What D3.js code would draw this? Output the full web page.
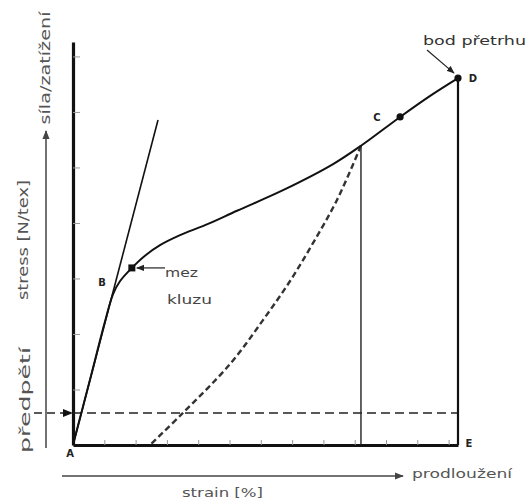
<!DOCTYPE html>
<html>
<head>
<meta charset="utf-8">
<script src="https://cdn.jsdelivr.net/npm/d3@7"></script>
<style>
  html, body { margin: 0; padding: 0; background: #fff; }
  svg { display: block; font-family: "DejaVu Sans", Verdana, sans-serif; }
</style>
</head>
<body>
<svg id="chart" width="528" height="501"></svg>
<script>
// Stress–strain diagram of a fibre (strain in tick units, stress in tick units)
const strainTicks = [1, 2, 3, 4, 5, 6, 7, 8, 9, 10, 11, 12];
const stressTicks = [1, 2, 3, 4, 5, 6, 7];
const strainMax = 12.3;
const stressMax = 7.26;

// loading curve A → B → C → D
const loadStrain = [0, 0.54, 1.02, 1.28, 1.50, 1.88, 2.30, 2.78, 3.42, 4.22, 5.24, 6.71, 8.31, 9.20, 10.45, 11.41, 12.30];
const loadStress = [0, 1.17, 2.22, 2.72, 2.95, 3.19, 3.41, 3.60, 3.78, 3.96, 4.22, 4.59, 5.06, 5.39, 5.91, 6.29, 6.61];

// unloading curve from the point on the loading curve back to zero stress
const unloadStrain = [9.20, 8.43, 7.67, 6.93, 6.07, 5.02, 3.48, 2.46];
const unloadStress = [5.39, 4.41, 3.64, 2.95, 2.25, 1.46, 0.56, 0];

// initial modulus (tangent at A)
const tangentStrain = [0, 2.716];
const tangentStress = [0, 5.856];

const preload = 0.577;           // předpětí
const yieldPoint = [1.88, 3.19]; // mez kluzu
const pointC = [10.45, 5.91];
const pointD = [12.30, 6.61];    // bod přetrhu
const unloadPoint = [9.20, 5.39];

const svg = d3.select("#chart");
const x = d3.scaleLinear().domain([0, strainMax]).range([73, 458]);
const y = d3.scaleLinear().domain([0, stressMax]).range([445, 42]);

// arrow markers
const defs = svg.append("defs");
function marker(id, size, color) {
  defs.append("marker")
    .attr("id", id).attr("viewBox", "0 0 10 10")
    .attr("refX", 9).attr("refY", 5)
    .attr("markerWidth", size).attr("markerHeight", size)
    .attr("markerUnits", "userSpaceOnUse")
    .attr("orient", "auto")
    .append("path").attr("d", "M0,1 L10,5 L0,9 Z").attr("fill", color);
}
marker("arrowBig", 10, "#111");
marker("arrowGrey", 9, "#444");
marker("arrowSmall", 8, "#222");

// ticks
const yAxis = svg.append("g").attr("transform", `translate(${x(0)},0)`)
  .call(d3.axisRight(y).tickValues(stressTicks).tickSize(7).tickSizeOuter(0).tickFormat(""));
yAxis.selectAll(".tick line").attr("stroke", "#999").attr("stroke-width", 1);
yAxis.select(".domain").attr("stroke", "#111").attr("stroke-width", 3.2);

const xAxis = svg.append("g").attr("transform", `translate(0,${y(0)})`)
  .call(d3.axisTop(x).tickValues(strainTicks).tickSize(5).tickSizeOuter(0).tickFormat(""));
xAxis.selectAll(".tick line").attr("stroke", "#999").attr("stroke-width", 1);
xAxis.select(".domain").attr("stroke", "#111").attr("stroke-width", 3);

// preload dashed line with arrow into the axis
svg.append("line")
  .attr("x1", x(0)).attr("x2", x(strainMax))
  .attr("y1", y(preload)).attr("y2", y(preload))
  .attr("stroke", "#222").attr("stroke-width", 1.6).attr("stroke-dasharray", "9,5");
svg.append("line")
  .attr("x1", 34).attr("x2", x(0) - 1)
  .attr("y1", y(preload)).attr("y2", y(preload))
  .attr("stroke", "#222").attr("stroke-width", 1.6).attr("stroke-dasharray", "8,5")
  .attr("marker-end", "url(#arrowBig)");

// vertical lines down from D and from the unloading point
svg.append("line")
  .attr("x1", x(pointD[0])).attr("x2", x(pointD[0]))
  .attr("y1", y(pointD[1])).attr("y2", y(0))
  .attr("stroke", "#111").attr("stroke-width", 2.2);
svg.append("line")
  .attr("x1", x(unloadPoint[0])).attr("x2", x(unloadPoint[0]))
  .attr("y1", y(unloadPoint[1])).attr("y2", y(0))
  .attr("stroke", "#222").attr("stroke-width", 1.4);

// tangent
svg.append("line")
  .attr("x1", x(tangentStrain[0])).attr("y1", y(tangentStress[0]))
  .attr("x2", x(tangentStrain[1])).attr("y2", y(tangentStress[1]))
  .attr("stroke", "#111").attr("stroke-width", 1.6);

const line = d3.line().x(d => x(d[0])).y(d => y(d[1])).curve(d3.curveCatmullRom.alpha(0.5));

// unloading curve
svg.append("path")
  .attr("d", line(unloadStrain.map((s, i) => [s, unloadStress[i]])))
  .attr("fill", "none").attr("stroke", "#333").attr("stroke-width", 2.4)
  .attr("stroke-dasharray", "6,3.5");

// loading curve
svg.append("path")
  .attr("d", line(loadStrain.map((s, i) => [s, loadStress[i]])))
  .attr("fill", "none").attr("stroke", "#111").attr("stroke-width", 2);

// markers
svg.append("rect")
  .attr("x", x(yieldPoint[0]) - 3.5).attr("y", y(yieldPoint[1]) - 3.5)
  .attr("width", 7).attr("height", 7).attr("fill", "#111");
[pointC, pointD].forEach(p => {
  svg.append("circle").attr("cx", x(p[0])).attr("cy", y(p[1])).attr("r", 3.6).attr("fill", "#111");
});

// point letters
const letters = [
  { t: "A", px: x(0) - 3, py: y(0) + 12 },
  { t: "B", px: 102, py: 286 },
  { t: "C", px: 377, py: 121 },
  { t: "D", px: x(pointD[0]) + 15, py: y(pointD[1]) + 4 },
  { t: "E", px: x(strainMax) + 11, py: y(0) + 2 }
];
svg.selectAll("text.letter").data(letters).join("text")
  .attr("class", "letter")
  .attr("x", d => d.px).attr("y", d => d.py)
  .attr("text-anchor", "middle")
  .attr("font-size", 10).attr("font-weight", "bold").attr("fill", "#222")
  .text(d => d.t);

// annotations
svg.append("line")
  .attr("x1", 165).attr("y1", y(yieldPoint[1]))
  .attr("x2", x(yieldPoint[0]) + 5).attr("y2", y(yieldPoint[1]))
  .attr("stroke", "#222").attr("stroke-width", 1.2)
  .attr("marker-end", "url(#arrowSmall)");
svg.append("text").attr("x", 165).attr("y", 277).attr("font-size", 13).attr("fill", "#444")
  .attr("textLength", 33).attr("lengthAdjust", "spacingAndGlyphs").text("mez");
svg.append("text").attr("x", 167).attr("y", 304).attr("font-size", 13).attr("fill", "#444")
  .attr("textLength", 45).attr("lengthAdjust", "spacingAndGlyphs").text("kluzu");

svg.append("line")
  .attr("x1", 427).attr("y1", 50).attr("x2", x(pointD[0]) - 4).attr("y2", y(pointD[1]) - 5)
  .attr("stroke", "#222").attr("stroke-width", 1.2)
  .attr("marker-end", "url(#arrowSmall)");
svg.append("text").attr("x", 423).attr("y", 45).attr("font-size", 12).attr("fill", "#333")
  .attr("textLength", 103).attr("lengthAdjust", "spacingAndGlyphs").text("bod přetrhu");

// outer arrows and axis titles
svg.append("line")
  .attr("x1", 62).attr("x2", 403).attr("y1", 476).attr("y2", 476)
  .attr("stroke", "#444").attr("stroke-width", 1.5)
  .attr("marker-end", "url(#arrowGrey)");
svg.append("text").attr("x", 412).attr("y", 478).attr("font-size", 13).attr("fill", "#555")
  .attr("textLength", 100).attr("lengthAdjust", "spacingAndGlyphs").text("prodloužení");
svg.append("text").attr("x", 182).attr("y", 497).attr("font-size", 13).attr("fill", "#555")
  .attr("textLength", 81).attr("lengthAdjust", "spacingAndGlyphs").text("strain [%]");

svg.append("line")
  .attr("x1", 46).attr("x2", 46).attr("y1", 448).attr("y2", 131)
  .attr("stroke", "#444").attr("stroke-width", 1.5)
  .attr("marker-end", "url(#arrowGrey)");

const vLabels = [
  { t: "síla/zatížení", cx: 45, cy: 68, len: 113, size: 14 },
  { t: "stress [N/tex]", cx: 23, cy: 240, len: 120, size: 14 },
  { t: "předpětí", cx: 25, cy: 400, len: 106, size: 14 }
];
vLabels.forEach(d => {
  svg.append("text")
    .attr("transform", `translate(${d.cx},${d.cy}) rotate(-90)`)
    .attr("text-anchor", "middle").attr("dy", "0.35em")
    .attr("font-size", d.size).attr("fill", "#555")
    .attr("textLength", d.len).attr("lengthAdjust", "spacingAndGlyphs")
    .text(d.t);
});
</script>
</body>
</html>
